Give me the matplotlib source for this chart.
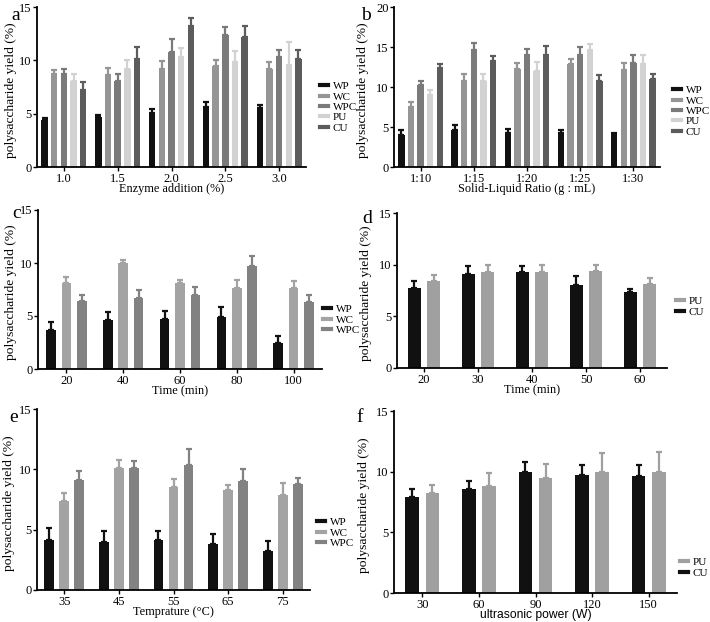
import numpy as np
import matplotlib
matplotlib.use("Agg")
import matplotlib.pyplot as plt
from matplotlib.lines import Line2D

plt.rcParams['font.family'] = ['Liberation Serif', 'DejaVu Serif']

W, H = 710, 622

# ---- data ----
# a: enzyme addition
a_cats = ["1.0", "1.5", "2.0", "2.5", "3.0"]
a_WP = [4.4, 4.7, 5.05, 5.6, 5.55]
a_WP_err = [0.2, 0.2, 0.35, 0.5, 0.25]
a_WC = [8.75, 8.6, 9.15, 9.45, 9.2]
a_WC_err = [0.35, 0.7, 0.8, 0.6, 0.6]
a_WPC = [8.75, 8.05, 10.8, 12.35, 10.35]
a_WPC_err = [0.45, 0.7, 1.2, 0.75, 0.6]
a_PU = [8.1, 9.2, 10.3, 9.85, 9.6]
a_PU_err = [0.6, 0.8, 0.9, 1.05, 2.1]
a_CU = [7.25, 10.15, 13.2, 12.2, 10.1]
a_CU_err = [0.75, 1.1, 0.8, 1.0, 0.85]

# b: solid-liquid ratio
b_cats = ["1:10", "1:15", "1:20", "1:25", "1:30"]
b_WP = [4.0, 4.6, 4.3, 4.2, 4.0]
b_WP_err = [0.6, 0.6, 0.45, 0.4, 0.2]
b_WC = [7.5, 10.8, 12.3, 12.9, 12.15]
b_WC_err = [0.6, 0.8, 0.7, 0.6, 0.85]
b_WPC = [10.2, 14.6, 13.95, 13.95, 13.05]
b_WPC_err = [0.55, 0.9, 0.85, 1.05, 0.9]
b_PU = [9.05, 10.7, 11.95, 14.65, 12.85]
b_PU_err = [0.55, 0.9, 1.15, 0.75, 1.2]
b_CU = [12.4, 13.2, 13.95, 10.8, 11.05]
b_CU_err = [0.45, 0.7, 1.15, 0.65, 0.55]

# c: time (WP, WC, WPC)
c_cats = ["20", "40", "60", "80", "100"]
c_WP = [3.7, 4.6, 4.7, 4.9, 2.45]
c_WP_err = [0.75, 0.75, 0.75, 0.95, 0.7]
c_WC = [8.15, 10.0, 8.1, 7.6, 7.6]
c_WC_err = [0.55, 0.3, 0.3, 0.75, 0.7]
c_WPC = [6.45, 6.7, 6.95, 9.7, 6.3]
c_WPC_err = [0.55, 0.75, 0.75, 1.0, 0.7]

# d: time (CU, PU)
d_cats = ["20", "30", "40", "50", "60"]
d_CU = [7.7, 9.1, 9.25, 8.05, 7.35]
d_CU_err = [0.7, 0.8, 0.6, 0.9, 0.25]
d_PU = [8.45, 9.25, 9.25, 9.35, 8.1]
d_PU_err = [0.55, 0.7, 0.7, 0.6, 0.65]

# e: temperature
e_cats = ["35", "45", "55", "65", "75"]
e_WP = [4.15, 4.0, 4.15, 3.85, 3.25]
e_WP_err = [1.0, 0.9, 0.7, 0.75, 0.85]
e_WC = [7.4, 10.15, 8.5, 8.25, 7.9]
e_WC_err = [0.6, 0.65, 0.7, 0.45, 1.0]
e_WPC = [9.15, 10.15, 10.35, 9.0, 8.8]
e_WPC_err = [0.7, 0.55, 1.35, 1.05, 0.45]

# f: ultrasonic power
f_cats = ["30", "60", "90", "120", "150"]
f_CU = [7.9, 8.55, 10.0, 9.7, 9.65]
f_CU_err = [0.65, 0.7, 0.8, 0.85, 0.9]
f_PU = [8.25, 8.8, 9.45, 10.0, 10.0]
f_PU_err = [0.65, 1.1, 1.15, 1.5, 1.6]

C_WP = "#111111"
C_WC = "#959595"
C_WPC = "#7a7a7a"
C_PU = "#d2d2d2"
C_CU = "#5c5c5c"
C_WC2 = "#a3a3a3"
C_WPC2 = "#828282"
C_PU2 = "#a0a0a0"

fig = plt.figure(figsize=(W / 100, H / 100), dpi=100)


def make_ax(l, r, t, b):
    return fig.add_axes([l / W, 1 - b / H, (r - l) / W, (b - t) / H])


def draw(ax, cats, series, width, step, ymax, xlabel, label_x_px, l, r,
         legend_items, legend_pos, letter, letter_pos, xfont=None):
    n = len(series)
    x = np.arange(len(cats))
    for k, (vals, errs, col) in enumerate(series):
        off = (k - (n - 1) / 2) * step
        ax.bar(x + off, vals, width, color=col, zorder=2)
        ax.errorbar(x + off, vals, yerr=[np.zeros(len(vals)), errs], fmt="none",
                    ecolor=col, elinewidth=1.6, capsize=2.5, capthick=1.6, zorder=1)
    ax.set_xlim(-0.5, len(cats) - 0.5)
    ax.set_ylim(0, ymax)
    ax.set_yticks(np.arange(0, ymax + 1, 5))
    ax.set_xticks(x)
    ax.set_xticklabels(cats)
    for s in ["top", "right"]:
        ax.spines[s].set_visible(False)
    for s in ["left", "bottom"]:
        ax.spines[s].set_linewidth(1.3)
    ax.tick_params(axis="both", length=3, width=1, labelsize=9, pad=1)
    if xfont:
        ax.set_xlabel(xlabel, fontsize=8.7, labelpad=-1, family=xfont)
    else:
        ax.set_xlabel(xlabel, fontsize=8.8, labelpad=-1)
    ax.set_ylabel("polysaccharide yield (%)", fontsize=9.7)
    ax.yaxis.set_label_coords(-(l - label_x_px) / (r - l), 0.48)
    handles = [Line2D([], [], color=c, lw=3) for _, c in legend_items]
    labels = [t for t, _ in legend_items]
    fig.legend(handles, labels, loc="upper left",
               bbox_to_anchor=(legend_pos[0] / W, 1 - legend_pos[1] / H),
               frameon=False, fontsize=8, handlelength=0.8, handletextpad=0.4,
               labelspacing=0.05, borderpad=0)
    fig.text(letter_pos[0] / W, 1 - letter_pos[1] / H, letter, fontsize=14,
             ha="center", va="center")


ax = make_ax(37, 306, 7, 167)
draw(ax, a_cats,
     [(a_WP, a_WP_err, C_WP), (a_WC, a_WC_err, C_WC), (a_WPC, a_WPC_err, C_WPC),
      (a_PU, a_PU_err, C_PU), (a_CU, a_CU_err, C_CU)],
     0.12, 0.18, 15, "Enzyme addition (%)", 17, 37, 306,
     [("WP", C_WP), ("WC", C_WC), ("WPC", C_WPC), ("PU", C_PU), ("CU", C_CU)],
     (314, 76), "a", (16, 15))

ax = make_ax(394, 660, 7, 167)
draw(ax, b_cats,
     [(b_WP, b_WP_err, C_WP), (b_WC, b_WC_err, C_WC), (b_WPC, b_WPC_err, C_WPC),
      (b_PU, b_PU_err, C_PU), (b_CU, b_CU_err, C_CU)],
     0.12, 0.18, 20, "Solid-Liquid Ratio (g : mL)", 369, 394, 660,
     [("WP", C_WP), ("WC", C_WC), ("WPC", C_WPC), ("PU", C_PU), ("CU", C_CU)],
     (667, 80), "b", (366, 15))

ax = make_ax(38, 322, 210, 369)
draw(ax, c_cats,
     [(c_WP, c_WP_err, C_WP), (c_WC, c_WC_err, C_WC2), (c_WPC, c_WPC_err, C_WPC2)],
     0.17, 0.27, 15, "Time (min)", 17, 38, 322,
     [("WP", C_WP), ("WC", C_WC2), ("WPC", C_WPC2)],
     (317, 299), "c", (17, 213))

ax = make_ax(397, 667, 213, 368)
draw(ax, d_cats,
     [(d_CU, d_CU_err, C_WP), (d_PU, d_PU_err, C_PU2)],
     0.24, 0.36, 15, "Time (min)", 372, 397, 667,
     [("PU", C_PU2), ("CU", C_WP)],
     (670, 291), "d", (367, 218))

ax = make_ax(37, 310, 409, 590)
draw(ax, e_cats,
     [(e_WP, e_WP_err, C_WP), (e_WC, e_WC_err, C_WC2), (e_WPC, e_WPC_err, C_WPC2)],
     0.18, 0.275, 15, "Temprature (\u00b0C)", 15, 37, 310,
     [("WP", C_WP), ("WC", C_WC2), ("WPC", C_WPC2)],
     (311, 512), "e", (14, 417))

ax = make_ax(394, 677, 411, 593)
draw(ax, f_cats,
     [(f_CU, f_CU_err, C_WP), (f_PU, f_PU_err, C_PU2)],
     0.24, 0.36, 15, "ultrasonic power (W)", 370, 394, 677,
     [("PU", C_PU2), ("CU", C_WP)],
     (674, 552), "f", (360, 418), xfont="Liberation Sans")

fig.savefig("out.png", dpi=100)
